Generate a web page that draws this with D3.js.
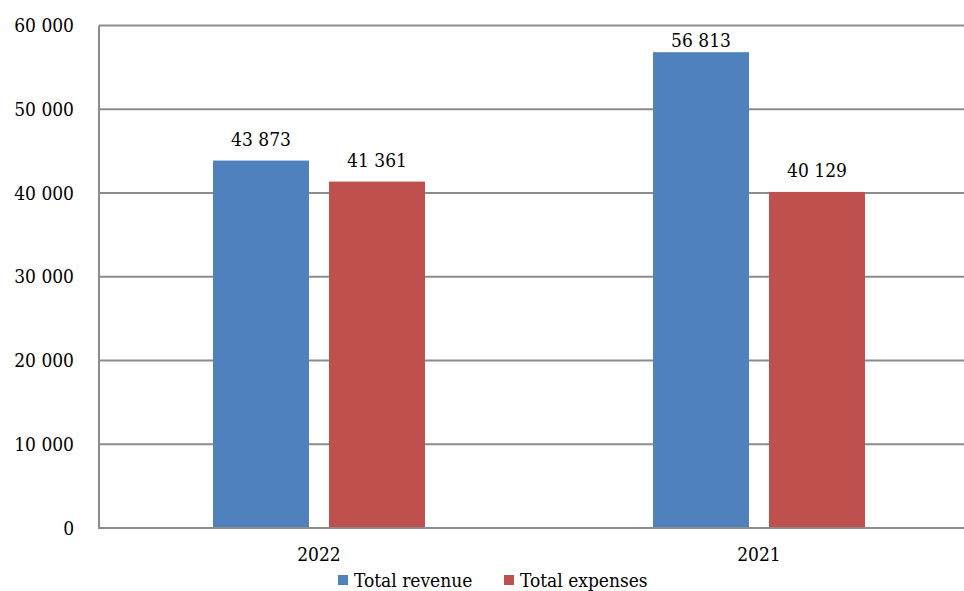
<!DOCTYPE html>
<html>
<head>
<meta charset="utf-8">
<script src="https://cdn.jsdelivr.net/npm/d3@7"></script>
<style>
  body { margin: 0; background: #fff; }
  svg text { font-family: "DejaVu Serif Condensed", "DejaVu Serif", serif; font-stretch: condensed; }
</style>
</head>
<body>
<script>
// chart data
const years = ["2022", "2021"];
const seriesNames = ["Total revenue", "Total expenses"];
const revenue = [43873, 56813];
const expenses = [41361, 40129];
const yTicks = [0, 10000, 20000, 30000, 40000, 50000, 60000];

const colors = ["#4f81bd", "#c0504d"];

const width = 964, height = 591;
const margin = { top: 25.5, left: 99, bottom: 63 };
const fontSize = 19;

const locale = d3.formatLocale({ decimal: ",", thousands: "\u00a0", grouping: [3], currency: ["", ""] });
const fmt = locale.format(",d");

const rows = years.map((y, i) => ({ year: y, values: [revenue[i], expenses[i]] }));

const svg = d3.select("body").append("svg")
    .attr("width", width)
    .attr("height", height);

// plot area runs past the right edge, clipped like the original
const x0 = d3.scaleBand()
    .domain(years)
    .range([margin.left, margin.left + 880]);

const x1 = d3.scaleBand()
    .domain(seriesNames)
    .range([0, x0.bandwidth()])
    .paddingInner(20 / 116)
    .paddingOuter(0.983);

const y = d3.scaleLinear()
    .domain([0, 60000])
    .range([height - margin.bottom, margin.top]);

// gridlines
svg.append("g")
    .selectAll("line")
    .data(yTicks)
    .join("line")
    .attr("x1", margin.left)
    .attr("x2", width)
    .attr("y1", d => y(d))
    .attr("y2", d => y(d))
    .attr("stroke", "#8c8c8c")
    .attr("stroke-width", 2);

// left axis line
svg.append("line")
    .attr("x1", margin.left)
    .attr("x2", margin.left)
    .attr("y1", y(60000))
    .attr("y2", y(0))
    .attr("stroke", "#8c8c8c")
    .attr("stroke-width", 2);

// y tick labels
svg.append("g")
    .selectAll("text")
    .data(yTicks)
    .join("text")
    .attr("x", 74)
    .attr("y", d => y(d))
    .attr("dy", "0.35em")
    .attr("text-anchor", "end")
    .attr("font-size", fontSize)
    .attr("fill", "#000")
    .text(d => fmt(d));

// bars
const groups = svg.append("g")
    .selectAll("g")
    .data(rows)
    .join("g")
    .attr("transform", d => `translate(${x0(d.year)},0)`);

groups.selectAll("rect")
    .data(d => d.values.map((v, i) => ({ name: seriesNames[i], value: v, i })))
    .join("rect")
    .attr("x", d => x1(d.name))
    .attr("width", x1.bandwidth())
    .attr("y", d => y(d.value))
    .attr("height", d => y(0) - y(d.value))
    .attr("fill", d => colors[d.i]);

// zero line over the bars
svg.append("line")
    .attr("x1", margin.left - 1)
    .attr("x2", width)
    .attr("y1", y(0))
    .attr("y2", y(0))
    .attr("stroke", "#8c8c8c")
    .attr("stroke-width", 2);

// value labels, kept inside the plot top like the original
groups.selectAll("text")
    .data(d => d.values.map((v, i) => ({ name: seriesNames[i], value: v, i })))
    .join("text")
    .attr("x", d => x1(d.name) + x1.bandwidth() / 2)
    .attr("y", d => Math.max(y(d.value) - 15, y(60000) + 21.5))
    .attr("text-anchor", "middle")
    .attr("font-size", fontSize)
    .attr("fill", "#000")
    .text(d => fmt(d.value));

// category labels
svg.append("g")
    .selectAll("text")
    .data(years)
    .join("text")
    .attr("x", d => x0(d) + x0.bandwidth() / 2)
    .attr("y", y(0) + 33)
    .attr("text-anchor", "middle")
    .attr("font-size", fontSize)
    .attr("fill", "#000")
    .text(d => d);

// legend
const legendX = [338, 504];
const legend = svg.append("g")
    .selectAll("g")
    .data(seriesNames)
    .join("g")
    .attr("transform", (d, i) => `translate(${legendX[i]},580)`);

legend.append("rect")
    .attr("x", 0)
    .attr("y", -5)
    .attr("width", 10)
    .attr("height", 10)
    .attr("fill", (d, i) => colors[i]);

legend.append("text")
    .attr("x", 16)
    .attr("y", 0)
    .attr("dy", "0.35em")
    .attr("font-size", fontSize)
    .attr("fill", "#000")
    .text(d => d);
</script>
</body>
</html>
